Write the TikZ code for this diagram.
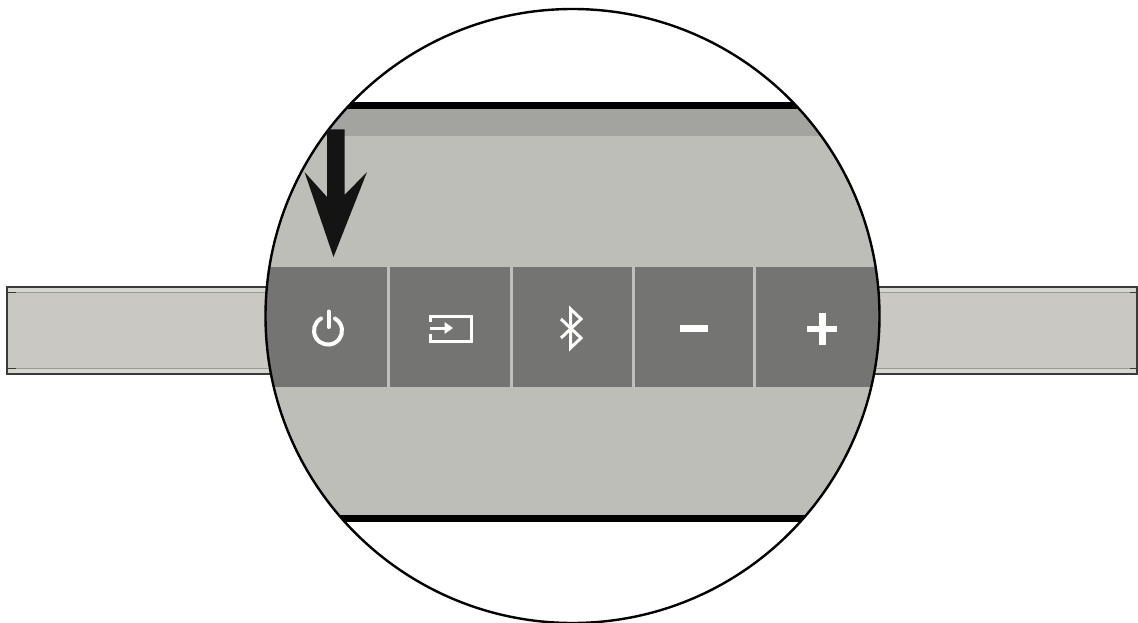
\documentclass[tikz,border=0pt]{standalone}
\definecolor{barfill}{HTML}{C9C8C2}
\definecolor{barband}{HTML}{D6D6D1}
\definecolor{barline}{HTML}{9A9A96}
\definecolor{edge}{HTML}{3A3A38}
\definecolor{panel}{HTML}{BEBEB9}
\definecolor{topband}{HTML}{A3A3A0}
\definecolor{keys}{HTML}{747472}
\definecolor{gap}{HTML}{C0C0BB}
\definecolor{ink}{HTML}{141414}
\tikzset{
  edgeline/.style={draw=edge,line width=1.3pt},
  sep/.style={draw=gap,line width=2.4pt},
  glyph/.style={draw=white,line width=4pt},
  thinglyph/.style={draw=white,line width=3pt,line join=miter},
}
\begin{document}
\begin{tikzpicture}[x=1pt,y=-1pt]
\useasboundingbox (0,0) rectangle (1138,623);
\fill[white] (0,0) rectangle (1138,623);
% left bar
\fill[barfill] (7,287) rectangle (290,374);
\fill[barband] (7,287) rectangle (290,292);
\fill[barband] (7,369) rectangle (290,374);
\draw[barline,line width=1pt] (7,292.5) -- (290,292.5) (7,368.5) -- (290,368.5);
\draw[edgeline,line width=1.8pt] (8,292.5) -- (16,292.5) (8,368.5) -- (16,368.5);
\draw[edgeline] (290,287) -- (7,287) -- (7,374) -- (290,374);
% right bar
\fill[barfill] (860,287) rectangle (1137,374);
\fill[barband] (860,287) rectangle (1137,292);
\fill[barband] (860,369) rectangle (1137,374);
\draw[barline,line width=1pt] (860,292.5) -- (1137,292.5) (860,368.5) -- (1137,368.5);
\draw[edgeline,line width=1.8pt] (1130,292.5) -- (1137,292.5) (1130,368.5) -- (1137,368.5);
\draw[edgeline] (860,287) -- (1137,287) -- (1137,374) -- (860,374);
% magnifier
\fill[white] (572.5,316) circle[radius=307];
\begin{scope}
\clip (572.5,316) circle[radius=307];
\fill[black] (200,102.5) rectangle (950,109);
\fill[topband] (200,109) rectangle (950,136);
\fill[panel] (200,136) rectangle (950,515);
\fill[keys] (200,267) rectangle (950,386.5);
\fill[black] (200,515) rectangle (950,521.5);
\draw[sep] (388.5,267) -- (388.5,386.5);
\draw[sep] (511.5,267) -- (511.5,386.5);
\draw[sep] (633.5,267) -- (633.5,386.5);
\draw[sep] (754.5,267) -- (754.5,386.5);
\end{scope}
\draw[black,line width=2.4pt] (572.5,316) circle[radius=307];
% arrow
\fill[ink] (327,129.5) -- (344.5,129.5) -- (344.5,195) -- (367,172) -- (333.5,257) -- (304.5,172) -- (327,197) -- cycle;
% power
\draw[glyph,line cap=round] (321,318.5) arc[start angle=240,end angle=-60,radius=14];
\draw[glyph,line cap=round] (328.5,311.5) -- (328.5,327);
% input
\draw[thinglyph] (430.5,322) -- (430.5,316) -- (471.5,316) -- (471.5,341) -- (430.5,341) -- (430.5,334);
\draw[thinglyph] (430,328) -- (446,328);
\fill[white] (444.5,322) -- (453,328) -- (444.5,334) -- cycle;
% bluetooth
\draw[thinglyph] (561,319) -- (581,338) -- (570.5,348) -- (570.5,309) -- (581,319) -- (561,338);
% minus
\fill[white] (680,325) rectangle (707.5,331.5);
% plus
\fill[white] (807,326) rectangle (837,332);
\fill[white] (819,313) rectangle (825.5,344.5);
\end{tikzpicture}
\end{document}
